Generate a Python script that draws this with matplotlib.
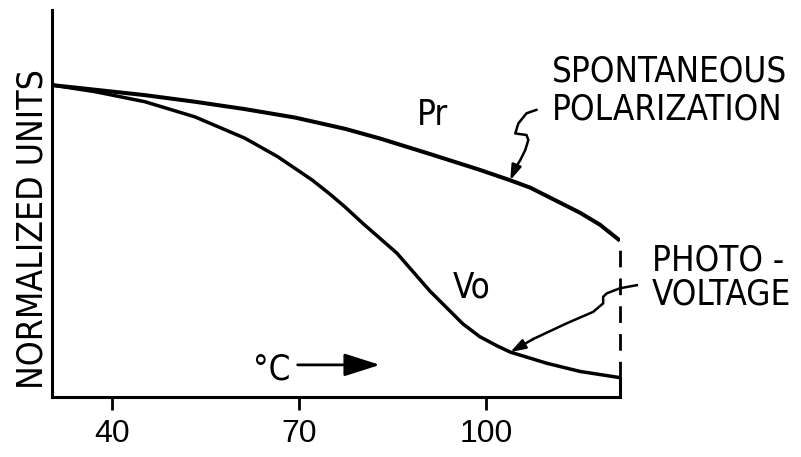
import matplotlib
matplotlib.use("Agg")
import matplotlib.pyplot as plt

# curve readings, temperature in deg C vs normalized units
pr_temp = [30.4, 37.3, 45.3, 53.3, 61.3, 69.4, 77.4, 83.0, 91.0, 99.0, 103.9, 107.1, 115.1, 118.3, 121.5]
pr_val = [0.806, 0.794, 0.780, 0.763, 0.744, 0.722, 0.693, 0.668, 0.628, 0.587, 0.560, 0.541, 0.476,
          0.445, 0.404]

vo_temp = [30.4, 37.3, 45.3, 53.3, 61.3, 66.6, 72.1, 75.0, 77.4, 80.3, 85.7, 91.0, 96.3, 99.0, 101.8,
           103.9, 109.8, 115.1, 121.5]
vo_val = [0.806, 0.789, 0.763, 0.724, 0.669, 0.621, 0.561, 0.524, 0.491, 0.448, 0.372, 0.274, 0.189,
          0.156, 0.132, 0.116, 0.087, 0.066, 0.050]

tick_temps = [40, 70, 100]
tick_labels = ["40", "70", "100"]

# hand-drawn leader lines pointing at the two curves
leader_pr = [(108.1, 0.742), (106.5, 0.733), (105.2, 0.707), (104.7, 0.681), (106.5, 0.677),
             (106.8, 0.664), (106.3, 0.638), (105.5, 0.612), (104.7, 0.591)]
leader_vo = [(124.2, 0.289), (121.5, 0.281), (119.4, 0.268), (118.8, 0.259), (118.8, 0.242),
             (117.2, 0.220), (112.9, 0.190), (107.6, 0.150)]
pr_target = pr_temp.index(103.9)
vo_target = vo_temp.index(103.9)

cond = dict(fontfamily="DejaVu Sans", fontstretch="condensed")

fig = plt.figure(figsize=(8.01, 4.57), dpi=100)
ax = fig.add_axes([52 / 801, 60 / 457, 568 / 801, 387 / 457])
ax.set_xlim(pr_temp[0], pr_temp[-1])
ax.set_ylim(0, 1)

ax.plot(pr_temp, pr_val, color="black", lw=2.9, solid_capstyle="butt", solid_joinstyle="round")
ax.plot(vo_temp, vo_val, color="black", lw=2.5, solid_capstyle="butt", solid_joinstyle="round")

# closing edge at the right end: dashed between curves, solid down to the axis
x_end = pr_temp[-1]
ax.plot([x_end, x_end], [vo_val[-1], pr_val[-1]], color="black", lw=2.0,
        linestyle=(0, (6, 4)), clip_on=False)
ax.plot([x_end, x_end], [0, vo_val[-1]], color="black", lw=2.2, clip_on=False)

for path, tx, ty in [(leader_pr, pr_temp[pr_target], pr_val[pr_target]),
                     (leader_vo, vo_temp[vo_target], vo_val[vo_target])]:
    xs, ys = zip(*path)
    ax.plot(xs, ys, color="black", lw=1.8, clip_on=False, solid_joinstyle="round")
    ax.annotate("", xy=(tx, ty), xytext=path[-1],
                arrowprops=dict(arrowstyle="-|>,head_length=0.9,head_width=0.3",
                                color="black", lw=1.8, mutation_scale=10,
                                shrinkA=0, shrinkB=0),
                annotation_clip=False)

for s in ["top", "right"]:
    ax.spines[s].set_visible(False)
for s in ["left", "bottom"]:
    ax.spines[s].set_linewidth(2.2)

ax.set_yticks([])
ax.set_xticks(tick_temps)
ax.set_xticklabels(tick_labels, fontfamily="Liberation Sans", fontsize=23)
ax.tick_params(axis="x", direction="out", length=9, width=2, pad=7)

ax.text(-0.016, 0.434, "NORMALIZED UNITS", transform=ax.transAxes, rotation=90,
        rotation_mode="anchor", ha="center", va="baseline", fontsize=25.5, **cond)

lab = dict(fontsize=25, va="baseline", ha="left", clip_on=False, **cond)
ax.text(88.9, 0.703, "Pr", **lab)
ax.text(94.7, 0.256, "Vo", **lab)
ax.text(110.6, 0.814, "SPONTANEOUS", **lab)
ax.text(110.6, 0.716, "POLARIZATION", **lab)
ax.text(126.6, 0.328, "PHOTO -", **lab)
ax.text(126.6, 0.238, "VOLTAGE", **lab)
ax.text(62.6, 0.044, "°C", **lab)

ax.annotate("", xy=(83.0, 0.083), xytext=(69.8, 0.083),
            arrowprops=dict(arrowstyle="-|>,head_length=1.1,head_width=0.35",
                            color="black", lw=2, mutation_scale=20, shrinkA=0, shrinkB=0))

fig.savefig("out.png", dpi=100, facecolor="white")
